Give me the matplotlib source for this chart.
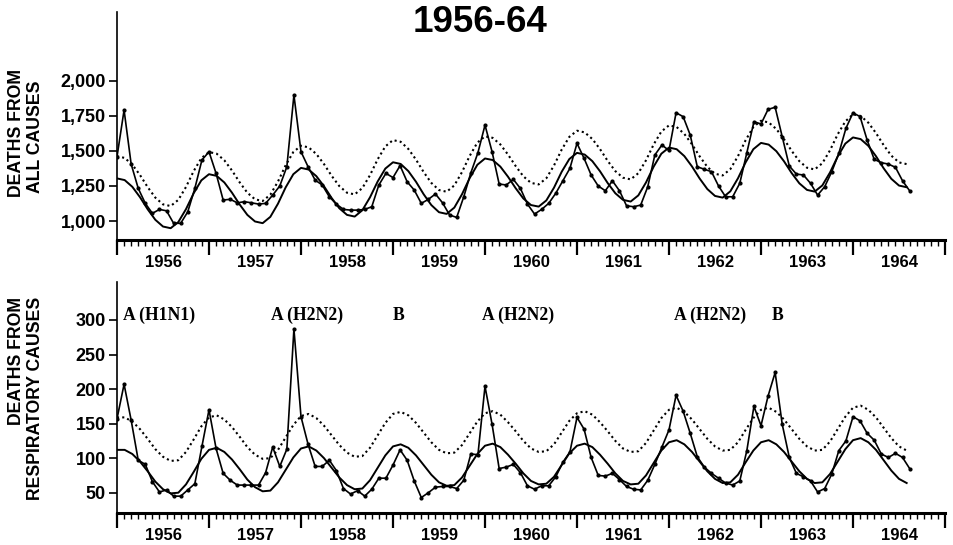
import matplotlib
matplotlib.use("Agg")
import matplotlib.pyplot as plt
import numpy as np

plt.rcParams["font.family"] = ["Liberation Sans", "DejaVu Sans"]

# ------------------------------------------------------------------ data
# observed deaths, 4-week periods (13 per year) from Jan 1956
all_obs = [
    1458, 1791, 1406, 1233, 1126, 1055, 1083, 1073, 984, 984, 1066, 1233, 1435,
    1494, 1340, 1150, 1155, 1130, 1138, 1130, 1121, 1126, 1185, 1250, 1387, 1898,
    1494, 1387, 1292, 1257, 1173, 1121, 1083, 1078, 1078, 1083, 1102, 1257, 1340,
    1310, 1395, 1280, 1221, 1126, 1155, 1193, 1130, 1043, 1026, 1173, 1344, 1487,
    1684, 1494, 1264, 1257, 1297, 1233, 1121, 1050, 1083, 1126, 1198, 1287, 1376,
    1554, 1447, 1328, 1250, 1216, 1287, 1216, 1109, 1102, 1114, 1245, 1471, 1542,
    1503, 1772, 1744, 1613, 1387, 1369, 1352, 1250, 1173, 1173, 1269, 1487, 1708,
    1692, 1796, 1811, 1601, 1392, 1335, 1328, 1269, 1185, 1245, 1352, 1483, 1661,
    1772, 1744, 1577, 1440, 1416, 1406, 1383, 1287, 1216,
]
resp_obs = [
    157, 207, 155, 97, 91, 66, 51, 54, 45, 45, 54, 63, 117,
    170, 114, 78, 68, 61, 61, 61, 61, 79, 116, 88, 113, 287,
    160, 120, 88, 88, 97, 82, 56, 48, 53, 45, 55, 71, 71,
    90, 112, 97, 67, 43, 50, 58, 59, 59, 56, 68, 106, 105,
    204, 149, 85, 87, 91, 79, 60, 55, 60, 60, 73, 94, 109,
    159, 142, 101, 75, 74, 78, 69, 59, 55, 54, 68, 91, 116,
    141, 191, 168, 136, 102, 87, 78, 71, 64, 61, 67, 111, 175,
    147, 190, 224, 149, 101, 78, 73, 67, 51, 56, 77, 111, 125,
    160, 154, 136, 126, 106, 101, 107, 101, 85,
]

# fitted seasonal baseline and epidemic threshold, monthly from Jan 1956
all_base = [
    1304, 1292, 1244, 1170, 1084, 1009, 961, 949, 993, 1085, 1198, 1290,
    1334, 1322, 1275, 1202, 1118, 1044, 997, 985, 1030, 1124, 1240, 1334,
    1379, 1367, 1320, 1248, 1164, 1091, 1044, 1032, 1077, 1169, 1282, 1374,
    1419, 1407, 1356, 1280, 1191, 1114, 1063, 1051, 1096, 1191, 1306, 1401,
    1446, 1435, 1388, 1316, 1234, 1161, 1114, 1103, 1147, 1238, 1351, 1442,
    1486, 1474, 1427, 1355, 1271, 1198, 1151, 1139, 1183, 1275, 1388, 1480,
    1524, 1512, 1463, 1389, 1303, 1228, 1179, 1167, 1212, 1305, 1419, 1512,
    1557, 1545, 1498, 1426, 1342, 1269, 1222, 1210, 1254, 1346, 1460, 1552,
    1596, 1584, 1536, 1462, 1376, 1301, 1253, 1241,
]
all_thresh = [
    1462, 1450, 1402, 1328, 1242, 1167, 1119, 1107, 1151, 1243, 1356, 1448,
    1492, 1480, 1433, 1360, 1276, 1202, 1155, 1143, 1188, 1282, 1398, 1492,
    1537, 1525, 1478, 1406, 1322, 1249, 1202, 1190, 1235, 1327, 1440, 1532,
    1577, 1565, 1514, 1438, 1349, 1272, 1221, 1209, 1254, 1349, 1464, 1559,
    1604, 1593, 1546, 1474, 1392, 1319, 1272, 1261, 1305, 1396, 1509, 1600,
    1644, 1632, 1585, 1513, 1429, 1356, 1309, 1297, 1341, 1433, 1546, 1638,
    1682, 1670, 1621, 1547, 1461, 1386, 1337, 1325, 1370, 1463, 1577, 1670,
    1715, 1703, 1656, 1584, 1500, 1427, 1380, 1368, 1412, 1504, 1618, 1710,
    1761, 1749, 1701, 1627, 1541, 1466, 1418, 1406,
]
resp_base = [
    112, 112, 106, 95, 81, 66, 55, 49, 50, 62, 80, 99,
    112, 115, 109, 98, 84, 69, 58, 52, 53, 65, 83, 101,
    114, 117, 111, 100, 86, 72, 61, 55, 56, 68, 86, 104,
    117, 120, 115, 104, 90, 76, 65, 60, 61, 72, 89, 106,
    118, 121, 116, 105, 92, 78, 67, 62, 63, 73, 90, 107,
    118, 121, 116, 105, 92, 78, 67, 62, 63, 75, 93, 111,
    123, 126, 120, 109, 95, 81, 70, 64, 65, 76, 94, 111,
    123, 126, 120, 109, 95, 81, 70, 64, 65, 77, 95, 113,
    126, 129, 123, 112, 97, 82, 70, 64,
]
resp_thresh = [
    159, 159, 153, 142, 128, 113, 102, 96, 97, 109, 127, 146,
    159, 162, 156, 145, 131, 116, 105, 99, 100, 112, 130, 148,
    161, 164, 158, 147, 133, 119, 108, 102, 103, 115, 133, 151,
    164, 167, 162, 151, 137, 123, 112, 107, 108, 119, 136, 153,
    165, 168, 163, 152, 139, 125, 114, 109, 110, 120, 137, 154,
    165, 168, 163, 152, 139, 125, 114, 109, 110, 122, 140, 158,
    170, 173, 167, 156, 142, 128, 117, 111, 112, 123, 141, 158,
    170, 173, 167, 156, 142, 128, 117, 111, 112, 124, 142, 160,
    173, 176, 170, 159, 144, 129, 117, 111,
]

years = list(range(1956, 1965))
all_ticks = [1000, 1250, 1500, 1750, 2000]
all_ticklabels = ["1,000", "1,250", "1,500", "1,750", "2,000"]
resp_ticks = [50, 100, 150, 200, 250, 300]

# virus labels over the respiratory panel (start year of label)
virus_labels = ["A (H1N1)", "A (H2N2)", "B", "A (H2N2)", "A (H2N2)", "B"]
virus_x = [1956.07, 1957.67, 1959.0, 1959.97, 1962.05, 1963.12]

START = 1956
PER_YEAR = 13


def draw_panel(ax, obs, base, thresh, ylim):
    t_obs = START + np.arange(len(obs)) / PER_YEAR
    t_fit = START + np.arange(len(base)) / 12
    ax.plot(t_fit, thresh, color="black", lw=1.5, ls=(0, (1.0, 1.5)))
    ax.plot(t_fit, base, color="black", lw=1.4)
    ax.plot(t_obs, obs, color="black", lw=1.2, marker="o", ms=2.0)

    ax.set_xlim(1956, 1965)
    ax.set_ylim(*ylim)
    for s in ("top", "right"):
        ax.spines[s].set_visible(False)
    ax.spines["bottom"].set_linewidth(2.2)
    ax.spines["left"].set_linewidth(1.2)

    ax.set_xticks(years + [1965])
    ax.set_xticklabels([])
    ax.set_xticks(START + np.arange(9 * PER_YEAR + 1) / PER_YEAR, minor=True)
    ax.tick_params(axis="x", which="major", length=11, width=1.6, direction="out")
    ax.tick_params(axis="x", which="minor", length=4.5, width=1.0, direction="out")
    ax.tick_params(axis="y", length=6, width=1.2, pad=2, labelsize=13)
    for lbl in ax.get_yticklabels():
        lbl.set_fontweight("bold")
    for y in years:
        ax.annotate(str(y), xy=(y + 0.5, 0), xycoords=ax.get_xaxis_transform(),
                    xytext=(0, -16), textcoords="offset points",
                    ha="center", va="center", fontsize=12, fontweight="bold")


fig = plt.figure(figsize=(9.54, 5.45), dpi=100)
W, H = 954, 545
ax1 = fig.add_axes([117 / W, 1 - 240 / H, 828 / W, 228 / H])
ax2 = fig.add_axes([117 / W, 1 - 513 / H, 828 / W, 231 / H])

draw_panel(ax1, all_obs, all_base, all_thresh, (865, 2490))
ax1.set_yticks(all_ticks, all_ticklabels, fontweight="bold")

draw_panel(ax2, resp_obs, resp_base, resp_thresh, (20.6, 355))
ax2.set_yticks(resp_ticks, [str(v) for v in resp_ticks], fontweight="bold")

for lab, x in zip(virus_labels, virus_x):
    ax2.text(x, 307, lab, ha="left", va="center", fontsize=12.7,
             family="Liberation Serif", fontweight="bold")

fig.text(480 / W, 1 - 22 / H, "1956-64", ha="center", va="center",
         fontsize=26.5, fontweight="bold")

lab_kw = dict(rotation=90, fontsize=12.7, fontweight="bold")
fig.text(16.5 / W, 1 - 133 / H, "DEATHS FROM", ha="center", va="center", **lab_kw)
fig.text(35.5 / W, 1 - 137 / H, "ALL CAUSES", ha="center", va="center", **lab_kw)
fig.text(16.5 / W, 1 - 297 / H, "DEATHS FROM", ha="center", va="top", **lab_kw)
fig.text(35.5 / W, 1 - 297 / H, "RESPIRATORY CAUSES", ha="center", va="top", **lab_kw)

fig.savefig("out.png", dpi=100)
